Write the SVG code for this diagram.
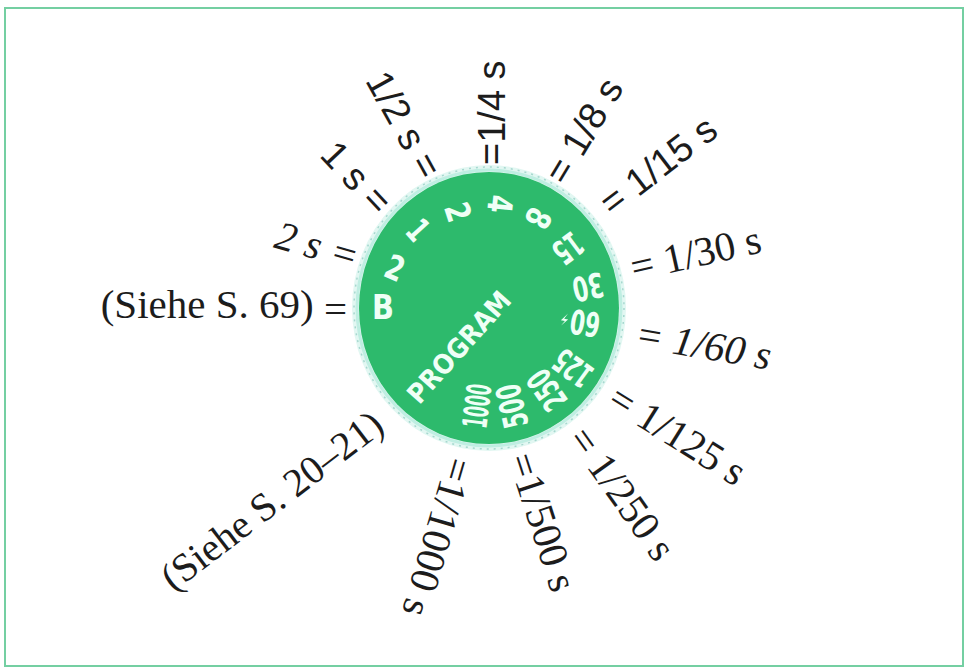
<svg xmlns="http://www.w3.org/2000/svg" width="966" height="671" viewBox="0 0 966 671">
<style>
.lab{font-family:"Liberation Serif","Times New Roman",serif;font-size:41px;fill:#1c1c1c;dominant-baseline:central;}
.sans{font-family:"Liberation Sans",Arial,sans-serif;font-size:38px;}
.it{font-style:italic;}
.st{text-anchor:start;}
.en{text-anchor:end;}
.dg{font-family:"DejaVu Sans","Liberation Sans",sans-serif;font-weight:bold;font-size:34px;fill:#effff6;text-anchor:middle;dominant-baseline:central;}
</style>
<rect x="0" y="0" width="966" height="671" fill="#ffffff"/>
<rect x="5" y="8" width="958" height="658" fill="none" stroke="#74cfa2" stroke-width="2"/>

<g id="dial">
  <ellipse cx="489" cy="308" rx="137" ry="143" fill="#e2f7f2"/>
  <ellipse cx="489" cy="308" rx="135" ry="141" fill="none" stroke="#a6d8cf" stroke-width="1.5" stroke-dasharray="2 5"/>
  <ellipse cx="489" cy="308" rx="132" ry="138" fill="none" stroke="#bfeee2" stroke-width="3"/>
  <ellipse cx="489" cy="308" rx="130" ry="136" fill="#2dba6c"/>
  <text class="dg" transform="translate(383,307) rotate(0)" textLength="22" lengthAdjust="spacingAndGlyphs">B</text>
  <text class="dg" transform="translate(395,268) rotate(23)" textLength="18" lengthAdjust="spacingAndGlyphs">2</text>
  <text class="dg" transform="translate(418,230) rotate(48)" textLength="16" lengthAdjust="spacingAndGlyphs">1</text>
  <text class="dg" transform="translate(458,212) rotate(72)" textLength="18" lengthAdjust="spacingAndGlyphs">2</text>
  <text class="dg" transform="translate(500,204) rotate(96)" textLength="18" lengthAdjust="spacingAndGlyphs">4</text>
  <text class="dg" transform="translate(538,218) rotate(118)" textLength="18" lengthAdjust="spacingAndGlyphs">8</text>
  <text class="dg" transform="translate(568,248) rotate(143)" textLength="29" lengthAdjust="spacingAndGlyphs">15</text>
  <text class="dg" transform="translate(588,287) rotate(168)" textLength="31" lengthAdjust="spacingAndGlyphs">30</text>
  <text class="dg" transform="translate(585,323) rotate(189)" textLength="30" lengthAdjust="spacingAndGlyphs">60</text>
  <path d="M3,-6 L-3,1 L1,1 L-2,7 L4,-1 L0,-1 Z" fill="#effff6" transform="translate(565,320) rotate(189)"/>
  <text class="dg" transform="translate(573,368) rotate(216)" textLength="40" lengthAdjust="spacingAndGlyphs">125</text>
  <text class="dg" transform="translate(547,390) rotate(235)" textLength="42" lengthAdjust="spacingAndGlyphs">250</text>
  <text class="dg" transform="translate(512,406) rotate(257)" textLength="44" lengthAdjust="spacingAndGlyphs">500</text>
  <text class="dg" transform="translate(477,406) rotate(277)" textLength="44" lengthAdjust="spacingAndGlyphs">1000</text>
  <text class="dg" style="font-size:27px" transform="translate(459,347) rotate(-48)" textLength="140" lengthAdjust="spacingAndGlyphs">PROGRAM</text>
</g>

<g id="labels">
  <g id="l-siehe69"><text class="lab en" x="347" y="318" style="dominant-baseline:alphabetic">(Siehe S. 69) <tspan dy="5">=</tspan></text></g>
  <g id="l-2s" transform="translate(358,257) rotate(16)"><text class="lab it en">2 s =</text></g>
  <g id="l-1s" transform="translate(385,208) rotate(46.8)"><text class="lab sans en">1 s =</text></g>
  <g id="l-1-2" transform="translate(432,175) rotate(61)"><text class="lab sans en">1/2 s =</text></g>
  <g id="l-1-4" transform="translate(492,165) rotate(-90)"><text class="lab sans st">=1/4 s</text></g>
  <g id="l-1-8" transform="translate(554,180) rotate(-59)"><text class="lab sans st">= 1/8 s</text></g>
  <g id="l-1-15" transform="translate(604,207) rotate(-37.5)"><text class="lab sans st">= 1/15 s</text></g>
  <g id="l-1-30" transform="translate(631,267.5) rotate(-12.7)"><text class="lab st">= 1/30 s</text></g>
  <g id="l-1-60" transform="translate(636,333) rotate(9.6)"><text class="lab it st">= 1/60 s</text></g>
  <g id="l-1-125" transform="translate(613,394) rotate(32)"><text class="lab st">= 1/125 s</text></g>
  <g id="l-1-250" transform="translate(578,431) rotate(54.5)"><text class="lab st">= 1/250 s</text></g>
  <g id="l-1-500" transform="translate(521,454) rotate(72)"><text class="lab st">=1/500 s</text></g>
  <g id="l-1-1000" transform="translate(461,459) rotate(106.3)"><text class="lab st">=1/1000 s</text></g>
  <g id="l-siehe2021" transform="translate(378,419) rotate(-37.4)"><text class="lab en" style="font-size:40px">(Siehe S. 20–21)</text></g>
</g>
</svg>
